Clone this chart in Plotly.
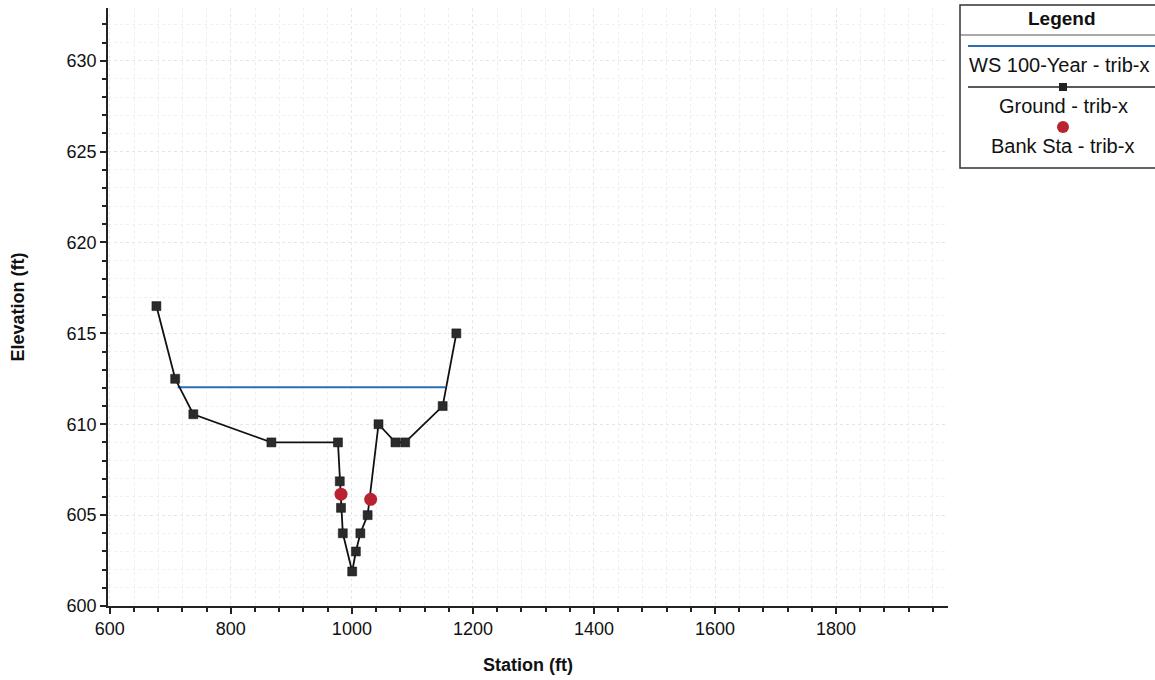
import plotly.graph_objects as go

# Data
ground_station = [677, 708, 738, 867, 977, 980, 982, 985, 1000.5, 1006.6, 1014, 1026, 1044, 1072, 1088, 1150, 1172.6]
ground_elev = [616.5, 612.5, 610.55, 609.0, 609.0, 606.86, 605.4, 604.0, 601.9, 603.0, 604.0, 605.0, 610.0, 609.0, 609.0, 611.0, 615.0]
ws_station = [712, 1154]
ws_elev = [612.04, 612.04]
bank_station = [982, 1031]
bank_elev = [606.15, 605.87]

W, H = 1155, 680
L, R, T, B = 108, 948, 8, 606

def px(x):
    return (x - L) / (R - L)

def py(y):
    return (B - y) / (B - T)

fig = go.Figure()
fig.add_trace(go.Scatter(x=ws_station, y=ws_elev, mode="lines",
                         line=dict(color="#2e6db4", width=2), name="WS 100-Year - trib-x"))
fig.add_trace(go.Scatter(x=ground_station, y=ground_elev, mode="lines+markers",
                         line=dict(color="#111111", width=1.8),
                         marker=dict(symbol="square", size=9, color="#2b2b2b", line=dict(color="#111", width=0.5)),
                         name="Ground - trib-x"))
fig.add_trace(go.Scatter(x=bank_station, y=bank_elev, mode="markers",
                         marker=dict(symbol="circle", size=13, color="#b8232f"),
                         name="Bank Sta - trib-x"))

font = "Liberation Sans, Arial, sans-serif"
axis_common = dict(showline=True, linecolor="#222", linewidth=1.5, ticks="outside", ticklen=6,
                   tickcolor="#222", tickwidth=1.5, showgrid=True, gridcolor="#e6e6e6", griddash="dot",
                   zeroline=False, tickfont=dict(family=font, size=18, color="#111"))
fig.update_xaxes(range=[597, 1985], tick0=600, dtick=200,
                 minor=dict(dtick=40, ticks="outside", ticklen=4, tickcolor="#222", showgrid=True,
                            gridcolor="#eeeeee", griddash="dot"),
                 title=dict(text="<b>Station (ft)</b>", font=dict(family=font, size=18, color="#111"), standoff=20),
                 **axis_common)
fig.update_yaxes(range=[600, 632.9], tick0=600, dtick=5,
                 minor=dict(dtick=1, ticks="outside", ticklen=4, tickcolor="#222", showgrid=True,
                            gridcolor="#f0f0f0", griddash="dot"),
                 title=dict(text="<b>Elevation (ft)</b>", font=dict(family=font, size=18, color="#111"), standoff=37),
                 **axis_common)

# Custom legend box (drawn in paper coordinates)
lx0, lx1, ly0, ly1 = 960, 1170, 5, 168
shapes = [
    dict(type="rect", xref="paper", yref="paper", x0=px(lx0), x1=px(lx1), y0=py(ly1), y1=py(ly0),
         line=dict(color="#333", width=1.5), fillcolor="white", layer="above"),
    dict(type="line", xref="paper", yref="paper", x0=px(lx0), x1=px(lx1), y0=py(35), y1=py(35),
         line=dict(color="#555", width=1.2)),
    dict(type="line", xref="paper", yref="paper", x0=px(968), x1=px(1160), y0=py(46), y1=py(46),
         line=dict(color="#2e6db4", width=2)),
    dict(type="line", xref="paper", yref="paper", x0=px(968), x1=px(1160), y0=py(87), y1=py(87),
         line=dict(color="#222", width=1.6)),
    dict(type="rect", xref="paper", yref="paper", x0=px(1059), x1=px(1067), y0=py(91), y1=py(83),
         fillcolor="#222", line=dict(color="#222", width=0)),
    dict(type="circle", xref="paper", yref="paper", x0=px(1057), x1=px(1069), y0=py(133), y1=py(121),
         fillcolor="#b8232f", line=dict(color="#b8232f", width=0)),
]
annos = [
    dict(text="<b>Legend</b>", x=px(1062), y=py(19), size=19),
    dict(text="WS 100-Year - trib-x", x=px(1059), y=py(65), size=20),
    dict(text="Ground - trib-x", x=px(1063), y=py(106), size=20),
    dict(text="Bank Sta - trib-x", x=px(1062), y=py(146), size=20),
]
fig.update_layout(
    width=W, height=H, margin=dict(l=L, r=W - R, t=T, b=H - B),
    plot_bgcolor="white", paper_bgcolor="white", showlegend=False,
    shapes=shapes,
    annotations=[dict(text=a["text"], x=a["x"], y=a["y"], xref="paper", yref="paper",
                      showarrow=False, xanchor="center", yanchor="middle",
                      font=dict(family=font, size=a["size"], color="#111")) for a in annos],
)
fig.write_html("out.html")
